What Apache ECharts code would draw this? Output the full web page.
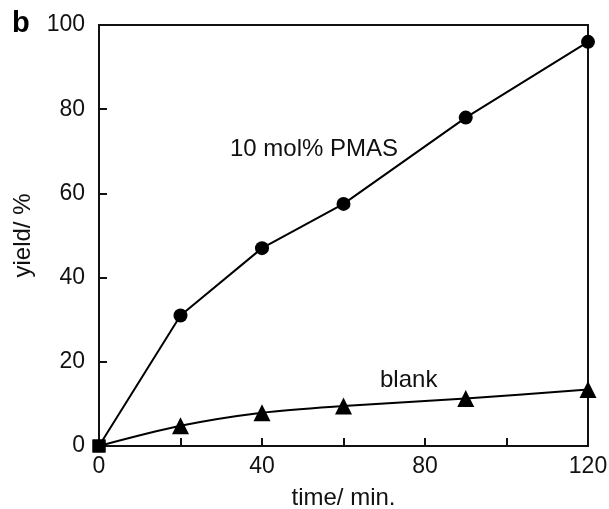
<!DOCTYPE html>
<html>
<head>
<meta charset="utf-8">
<script src="https://cdn.jsdelivr.net/npm/echarts@6/dist/echarts.min.js"></script>
<style>
  html, body { margin: 0; padding: 0; background: #fff; }
</style>
</head>
<body>
<div id="chart" style="width: 609px;height: 509px;"></div>
<script>
// time (min) vs yield (%)
const times = [0, 20, 40, 60, 90, 120];
const pmasYield = [0, 31, 47, 57.5, 78, 96];
const blankYield = [0, 4.8, 7.9, 9.5, 11.3, 13.4];

const font = 'Liberation Sans, Arial, sans-serif';

const toPairs = (ys) => times.map((t, i) => {
  // first point (0,0) is drawn as a square in the figure
  if (i === 0) {
    return { value: [t, ys[i]], symbol: 'rect', symbolSize: 13 };
  }
  return [t, ys[i]];
});

const chart = echarts.init(document.getElementById('chart'));

const option = {
  animation: false,
  backgroundColor: '#fff',
  grid: {
    left: 99,
    top: 25,
    right: 21,
    bottom: 63,
    outerBoundsMode: 'none',
    show: true,
    borderColor: '#111',
    borderWidth: 2,
  },
  xAxis: {
    type: 'value',
    min: 0,
    max: 120,
    interval: 20,
    name: 'time/ min.',
    nameLocation: 'middle',
    nameGap: 40,
    nameTextStyle: { color: '#111', fontSize: 24, fontFamily: font },
    axisLine: { show: true, lineStyle: { color: '#111', width: 2 } },
    axisTick: { show: true, inside: true, length: 8, lineStyle: { color: '#111', width: 2 } },
    axisLabel: {
      color: '#111',
      fontSize: 23,
      fontFamily: font,
      margin: 9,
      formatter: (v) => (v % 40 === 0 ? String(v) : ''),
    },
    splitLine: { show: false },
  },
  yAxis: {
    type: 'value',
    min: 0,
    max: 100,
    interval: 20,
    name: 'yield/ %',
    nameLocation: 'middle',
    nameGap: 59,
    nameRotate: 90,
    nameTextStyle: { color: '#111', fontSize: 24, fontFamily: font },
    axisLine: { show: true, lineStyle: { color: '#111', width: 2 } },
    axisTick: { show: true, inside: true, length: 8, lineStyle: { color: '#111', width: 2 } },
    axisLabel: { color: '#111', fontSize: 23, fontFamily: font, margin: 14 },
    splitLine: { show: false },
  },
  graphic: [
    {
      type: 'text',
      x: 12,
      y: 24,
      style: { text: 'b', fill: '#000', font: 'bold 29px ' + font, verticalAlign: 'middle' },
    },
    {
      type: 'text',
      x: 230,
      y: 149,
      style: { text: '10 mol% PMAS', fill: '#111', font: '24px ' + font, verticalAlign: 'middle' },
    },
    {
      type: 'text',
      x: 380,
      y: 380,
      style: { text: 'blank', fill: '#111', font: '24px ' + font, verticalAlign: 'middle' },
    },
  ],
  series: [
    {
      name: 'PMAS',
      type: 'line',
      data: toPairs(pmasYield),
      symbol: 'circle',
      symbolSize: 14,
      itemStyle: { color: '#000' },
      lineStyle: { color: '#000', width: 2 },
      z: 3,
    },
    {
      name: 'blank',
      type: 'line',
      data: toPairs(blankYield),
      smooth: 0.3,
      symbol: 'triangle',
      symbolSize: 17,
      itemStyle: { color: '#000' },
      lineStyle: { color: '#000', width: 2 },
      z: 4,
    },
  ],
};

chart.setOption(option);
</script>
</body>
</html>
